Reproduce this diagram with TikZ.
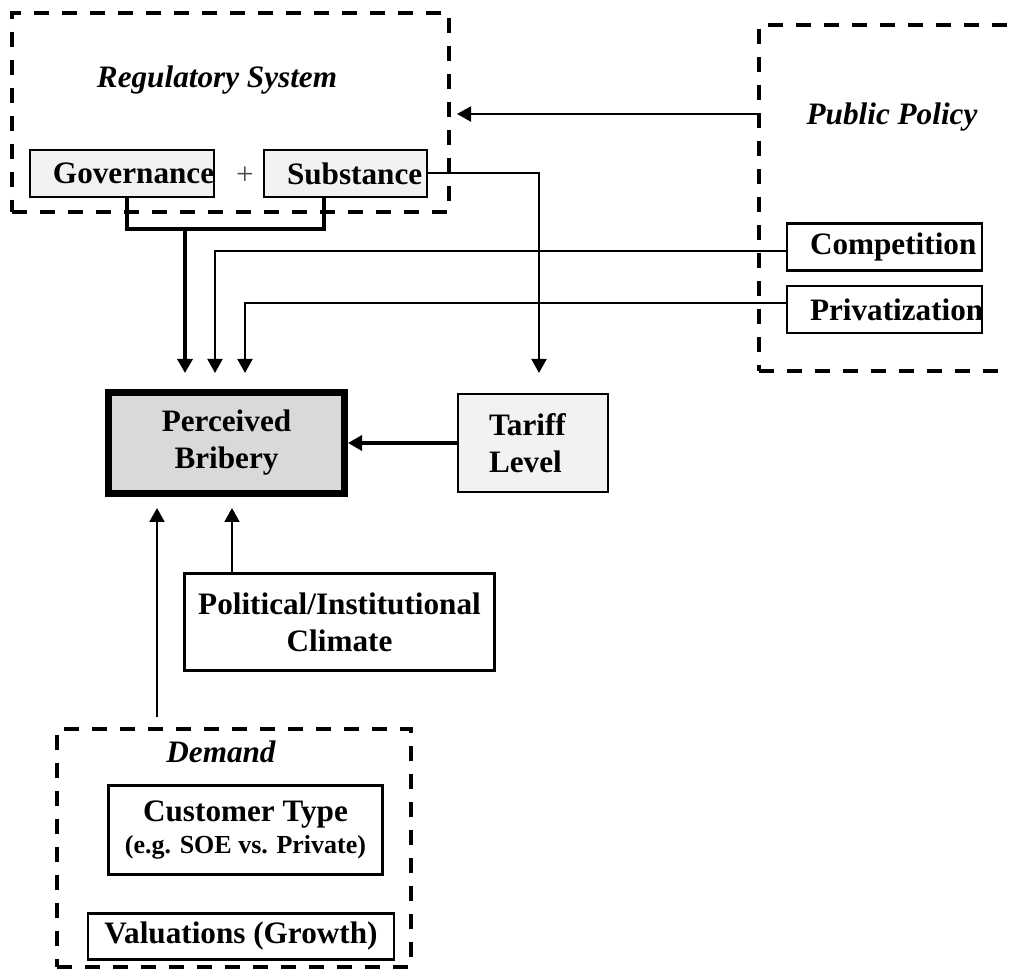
\documentclass[tikz,border=0pt]{standalone}
\usepackage{fontspec}
\setmainfont{Liberation Serif}
\usetikzlibrary{arrows.meta}

\definecolor{lightfill}{HTML}{F2F2F2}
\definecolor{midfill}{HTML}{D9D9D9}

\tikzset{
  every node/.style = {font=\fontsize{15.6}{18.5}\selectfont\bfseries},
  box/.style     = {shape=rectangle, draw, line width=1.1pt,
                    align=center, inner sep=1pt},
  lbox/.style    = {box, align=left, inner xsep=11.5pt, text width=#1},
  core/.style    = {box, fill=midfill, line width=3.5pt},
  group/.style   = {shape=rectangle, draw, line width=2pt, inner sep=0pt,
                    dash pattern=on 7.5pt off 6.5pt},
  heading/.style = {anchor=base,
                    font=\fontsize{15.6}{18.5}\selectfont\bfseries\itshape},
  arr/.style     = {line width=1pt, -{Triangle[length=7pt,width=7.5pt]}},
  bigarr/.style  = {arr, line width=1.7pt},
  bus/.style     = {line width=1.7pt}
}

\begin{document}
\begin{tikzpicture}[x=0.5pt,y=-0.5pt]
\useasboundingbox (0,0) rectangle (1009,977);

\node [group, minimum width=218.5pt, minimum height=99.5pt] (reg) at (230.5,112.5) {};
\node [heading] (regt) at (217,88) {Regulatory System};
\node [lbox=69pt, fill=lightfill, minimum height=23.5pt] (gov) at (122,173.5) {Governance};
\node [lbox=58.5pt, fill=lightfill, minimum height=23.5pt] (sub) at (345.5,173.5) {Substance};
\node [font=\fontsize{15.6}{18.5}\selectfont\mdseries, text=black!70] (plus) at (245,176) {+};

\node [group, minimum width=150.5pt, minimum height=173pt] (pp) at (909.5,198) {};
\node [heading] (ppt) at (892,125) {Public Policy};
\node [lbox=74.5pt, minimum height=23.5pt] (comp) at (884.5,247) {Competition};
\node [lbox=74.5pt, minimum height=23.5pt] (priv) at (884.5,309.5) {Privatization};

\node [core, minimum width=118pt, minimum height=50.5pt] (pb) at (226.5,443) {Perceived\\Bribery};
\node [lbox=44pt, inner xsep=15.5pt, fill=lightfill, minimum height=49pt] (tariff) at (533,443) {Tariff\\Level};
\node [box, minimum width=155pt, minimum height=48.5pt] (pol) at (339.5,622) {Political/Institutional\\Climate};

\node [group, minimum width=177pt, minimum height=119pt] (dem) at (234,848) {};
\node [heading] (demt) at (221,763) {Demand};
\node [box, minimum width=137pt, minimum height=44.5pt] (cust) at (245.5,830)
  {Customer Type\\[-2.5pt]{\fontsize{13}{16}\selectfont (e.g. SOE vs. Private)}};
\node [box, minimum width=153pt, minimum height=23pt] (val) at (241,936.5) {Valuations (Growth)};

\coordinate (busL) at (127,229);
\coordinate (busR) at (324,229);
\coordinate (busM) at (185,229);
\coordinate (in1) at (185,373);
\coordinate (in2) at (215,373);
\coordinate (in3) at (245,373);
\coordinate (in4) at (539,373);
\coordinate (out1) at (157,508);
\coordinate (out2) at (232,508);
\coordinate (d1) at (157,717);
\coordinate (ppin) at (600,114);

\draw [bus] (gov.south -| busL) -- (busL) -- (busR) -- (sub.south -| busR);
\draw [bigarr] (busM) -- (in1);
\draw [arr] ([yshift=-2pt]comp.west) -| (in2);
\draw [arr] ([yshift=3pt]priv.west) -| (in3);
\draw [arr] (sub.east) -| (in4);
\draw [arr, shorten >=3pt] (ppin -| pp.west) -- (ppin -| reg.east);
\draw [bigarr] (tariff.west) -- (pb.east);
\draw [arr] (pol.north -| out2) -- (out2);
\draw [arr] (d1) -- (out1);
\end{tikzpicture}
\end{document}
